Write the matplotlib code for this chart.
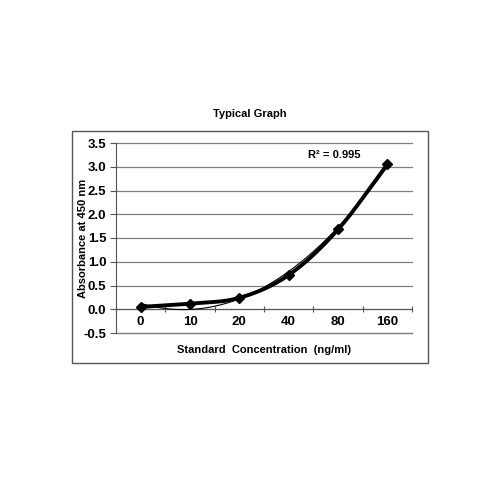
import matplotlib
matplotlib.use("Agg")
import matplotlib.pyplot as plt
import numpy as np
from matplotlib.patches import Rectangle

plt.rcParams['font.family'] = ['Liberation Sans', 'DejaVu Sans']

concentration = ['0', '10', '20', '40', '80', '160']
absorbance = [0.05, 0.12, 0.24, 0.72, 1.68, 3.05]
r2_text = 'R² = 0.995'


def catmull_rom(xs, ys, n=30):
    # smoothed line like the spreadsheet "smooth line" option
    px = np.concatenate([[2 * xs[0] - xs[1]], xs, [2 * xs[-1] - xs[-2]]])
    py = np.concatenate([[2 * ys[0] - ys[1]], ys, [2 * ys[-1] - ys[-2]]])
    outx, outy = [], []
    t = np.linspace(0, 1, n)
    for i in range(1, len(px) - 2):
        for p, out in ((px, outx), (py, outy)):
            p0, p1, p2, p3 = p[i - 1], p[i], p[i + 1], p[i + 2]
            seg = 0.5 * (2 * p1 + (-p0 + p2) * t + (2 * p0 - 5 * p1 + 4 * p2 - p3) * t ** 2
                         + (-p0 + 3 * p1 - 3 * p2 + p3) * t ** 3)
            out.extend(seg)
    return np.array(outx), np.array(outy)


fig = plt.figure(figsize=(5, 5), dpi=100)
ax = fig.add_axes([0.232, 0.334, 0.592, 0.38])

x = np.arange(len(concentration)) + 0.5
y = np.array(absorbance)

# polynomial trendline (order 2)
coef = np.polyfit(x, y, 2)
xt = np.linspace(x[0], x[-1], 200)
ax.plot(xt, np.polyval(coef, xt), color='black', lw=0.8, zorder=3)

sx, sy = catmull_rom(x, y)
ax.plot(sx, sy, color='black', lw=2.8, zorder=4)
ax.plot(x, y, 'D', color='black', ms=5.5, zorder=5)

ax.set_xlim(0, len(concentration))
ax.set_ylim(-0.5, 3.5)
ax.set_yticks(np.arange(-0.5, 3.51, 0.5))
ax.set_yticklabels(['%.1f' % v for v in np.arange(-0.5, 3.51, 0.5)],
                   fontsize=9.5, fontweight='bold')
ax.yaxis.grid(True, color='#808080', lw=0.9, clip_on=False)
ax.set_axisbelow(True)

ax.spines['top'].set_visible(False)
ax.spines['right'].set_visible(False)
ax.spines['bottom'].set_position(('data', 0))
ax.spines['left'].set_color('#555555')
ax.spines['bottom'].set_color('#555555')
ax.axhline(-0.5, color='#808080', lw=0.9, clip_on=False, zorder=1)

ax.set_xticks(np.arange(0, len(concentration) + 1), minor=False)
ax.set_xticklabels([])
ax.tick_params(axis='x', which='major', direction='inout', length=5, color='#555555')
for xi, lab in zip(x, concentration):
    ax.text(xi, -0.26, lab, ha='center', va='center', fontsize=9.5, fontweight='bold')
ax.tick_params(axis='y', length=4, color='#555555', pad=3)

ax.set_ylabel('Absorbance at 450 nm', fontsize=8, fontweight='bold')
ax.yaxis.set_label_coords(-0.095, 0.5)
ax.text(len(concentration) / 2, -0.86, 'Standard  Concentration  (ng/ml)',
        ha='center', va='center', fontsize=8, fontweight='bold')
ax.text(4.42, 3.25, r2_text, ha='center', va='center', fontsize=8, fontweight='bold')

fig.text(0.5, 0.772, 'Typical Graph', ha='center', va='center', fontsize=8, fontweight='bold')

fig.patches.append(Rectangle((0.144, 0.274), 0.712, 0.464, transform=fig.transFigure,
                             fill=False, edgecolor='#555555', lw=1))

fig.savefig('out.png', dpi=100)
